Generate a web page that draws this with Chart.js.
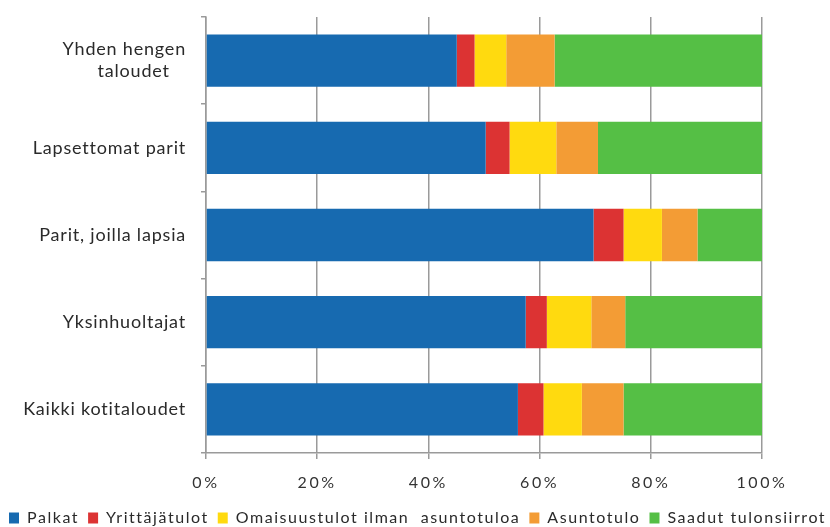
<!DOCTYPE html>
<html>
<head>
<meta charset="utf-8">
<script src="https://cdn.jsdelivr.net/npm/chart.js@4"></script>
<style>
  html, body { margin: 0; padding: 0; background: #fff; }
  #wrap { width: 830px; height: 527px; }
</style>
</head>
<body>
<div id="wrap"><canvas id="canvas-chart"></canvas></div>
<script>
const categories = [['Yhden hengen', 'taloudet   '], 'Lapsettomat parit', 'Parit, joilla lapsia', 'Yksinhuoltajat', 'Kaikki kotitaloudet'];
const palkat = [45.1, 50.3, 69.7, 57.5, 56.1];
const yrittajatulot = [3.2, 4.3, 5.4, 3.8, 4.6];
const omaisuustulot = [5.7, 8.4, 6.9, 8.0, 6.9];
const asuntotulo = [8.7, 7.5, 6.4, 6.1, 7.5];
const tulonsiirrot = [37.3, 29.5, 11.6, 24.6, 24.9];
const xTicks = [0, 20, 40, 60, 80, 100];

const FONT = 'Lato';

// the original text is drawn with extra letter spacing
function spaced(scale, px) {
    if (scale._spaced) return;
    const orig = scale.drawLabels;
    scale.drawLabels = function (area) {
        const c = this.ctx;
        c.save();
        c.letterSpacing = px;
        orig.call(this, area);
        c.restore();
    };
    scale._spaced = true;
}

// keep the legend on one line and only as tall as the original
function tightLegend(legend) {
    if (!legend || legend._tight) return;
    const fit = legend.fit;
    legend.fit = function () {
        const w = this.maxWidth;
        this.maxWidth = 900;
        fit.call(this);
        this.maxWidth = w;
        this.width = w;
        this.height = 26;
    };
    const draw = legend.draw;
    legend.draw = function () {
        const r = this.right;
        this.right = 900;
        draw.call(this);
        this.right = r;
    };
    legend._tight = true;
}

const spacing = {
    id: 'spacing',
    beforeLayout(chart) {
        chart.ctx.letterSpacing = '1.55px';
        tightLegend(chart.legend);
    },
    afterLayout(chart) {
        spaced(chart.scales.x, '2.6px');
        spaced(chart.scales.y, '0.8px');
    },
    beforeDraw(chart) { chart.ctx.letterSpacing = '1.55px'; }
};

const ctx = document.getElementById('canvas-chart');

new Chart(ctx, {
type: 'bar',
data: {
    labels: categories,
    datasets: [
        { label: 'Palkat', data: palkat, backgroundColor: '#176ab0' },
        { label: 'Yrittäjätulot', data: yrittajatulot, backgroundColor: '#dc3333' },
        { label: 'Omaisuustulot ilman  asuntotuloa', data: omaisuustulot, backgroundColor: '#ffda0f' },
        { label: 'Asuntotulo', data: asuntotulo, backgroundColor: '#f39c35' },
        { label: 'Saadut tulonsiirrot', data: tulonsiirrot, backgroundColor: '#55bf45' }
    ]
},
plugins: [spacing],
options: {
    indexAxis: 'y',
    responsive: true,
    maintainAspectRatio: false,
    animation: false,
    datasets: {
        bar: { barPercentage: 1, categoryPercentage: 0.6, borderWidth: 0 }
    },
    scales: {
        x: {
            stacked: true,
            min: 0,
            max: 100,
            afterBuildTicks: (s) => { s.ticks = xTicks.map(v => ({ value: v })); },
            afterFit: (s) => { s.height = 48; },
            grid: { color: '#9a9a9a', tickLength: 6, lineWidth: 1.5 },
            border: { color: '#9a9a9a', width: 1.5 },
            ticks: {
                color: '#333',
                padding: 14,
                font: { family: FONT, size: 16 },
                callback: (v) => v + '%'
            }
        },
        y: {
            stacked: true,
            afterFit: (s) => { s.width = 206; s.paddingTop = 0; s.paddingBottom = 0; },
            grid: { drawOnChartArea: false, color: '#9a9a9a', tickLength: 5, lineWidth: 1.5 },
            border: { color: '#9a9a9a', width: 1.5 },
            ticks: {
                color: '#2a2a2a',
                padding: 15,
                font: { family: FONT, size: 18, lineHeight: 1.22 }
            }
        },
        yr: {
            position: 'right',
            type: 'category',
            afterFit: (s) => { s.width = 68; s.paddingTop = 0; s.paddingBottom = 0; },
            grid: { display: false },
            border: { display: false },
            ticks: { display: false }
        }
    },
    plugins: {
        legend: {
            position: 'bottom',
            align: 'start',
            labels: {
                color: '#2a2a2a',
                boxWidth: 10,
                boxHeight: 11,
                padding: 9,
                font: { family: FONT, size: 16 }
            }
        },
        tooltip: { enabled: false }
    },
    layout: {
        padding: { left: 0, right: 0, top: 17, bottom: 0 }
    }
}
});
</script>
</body>
</html>
